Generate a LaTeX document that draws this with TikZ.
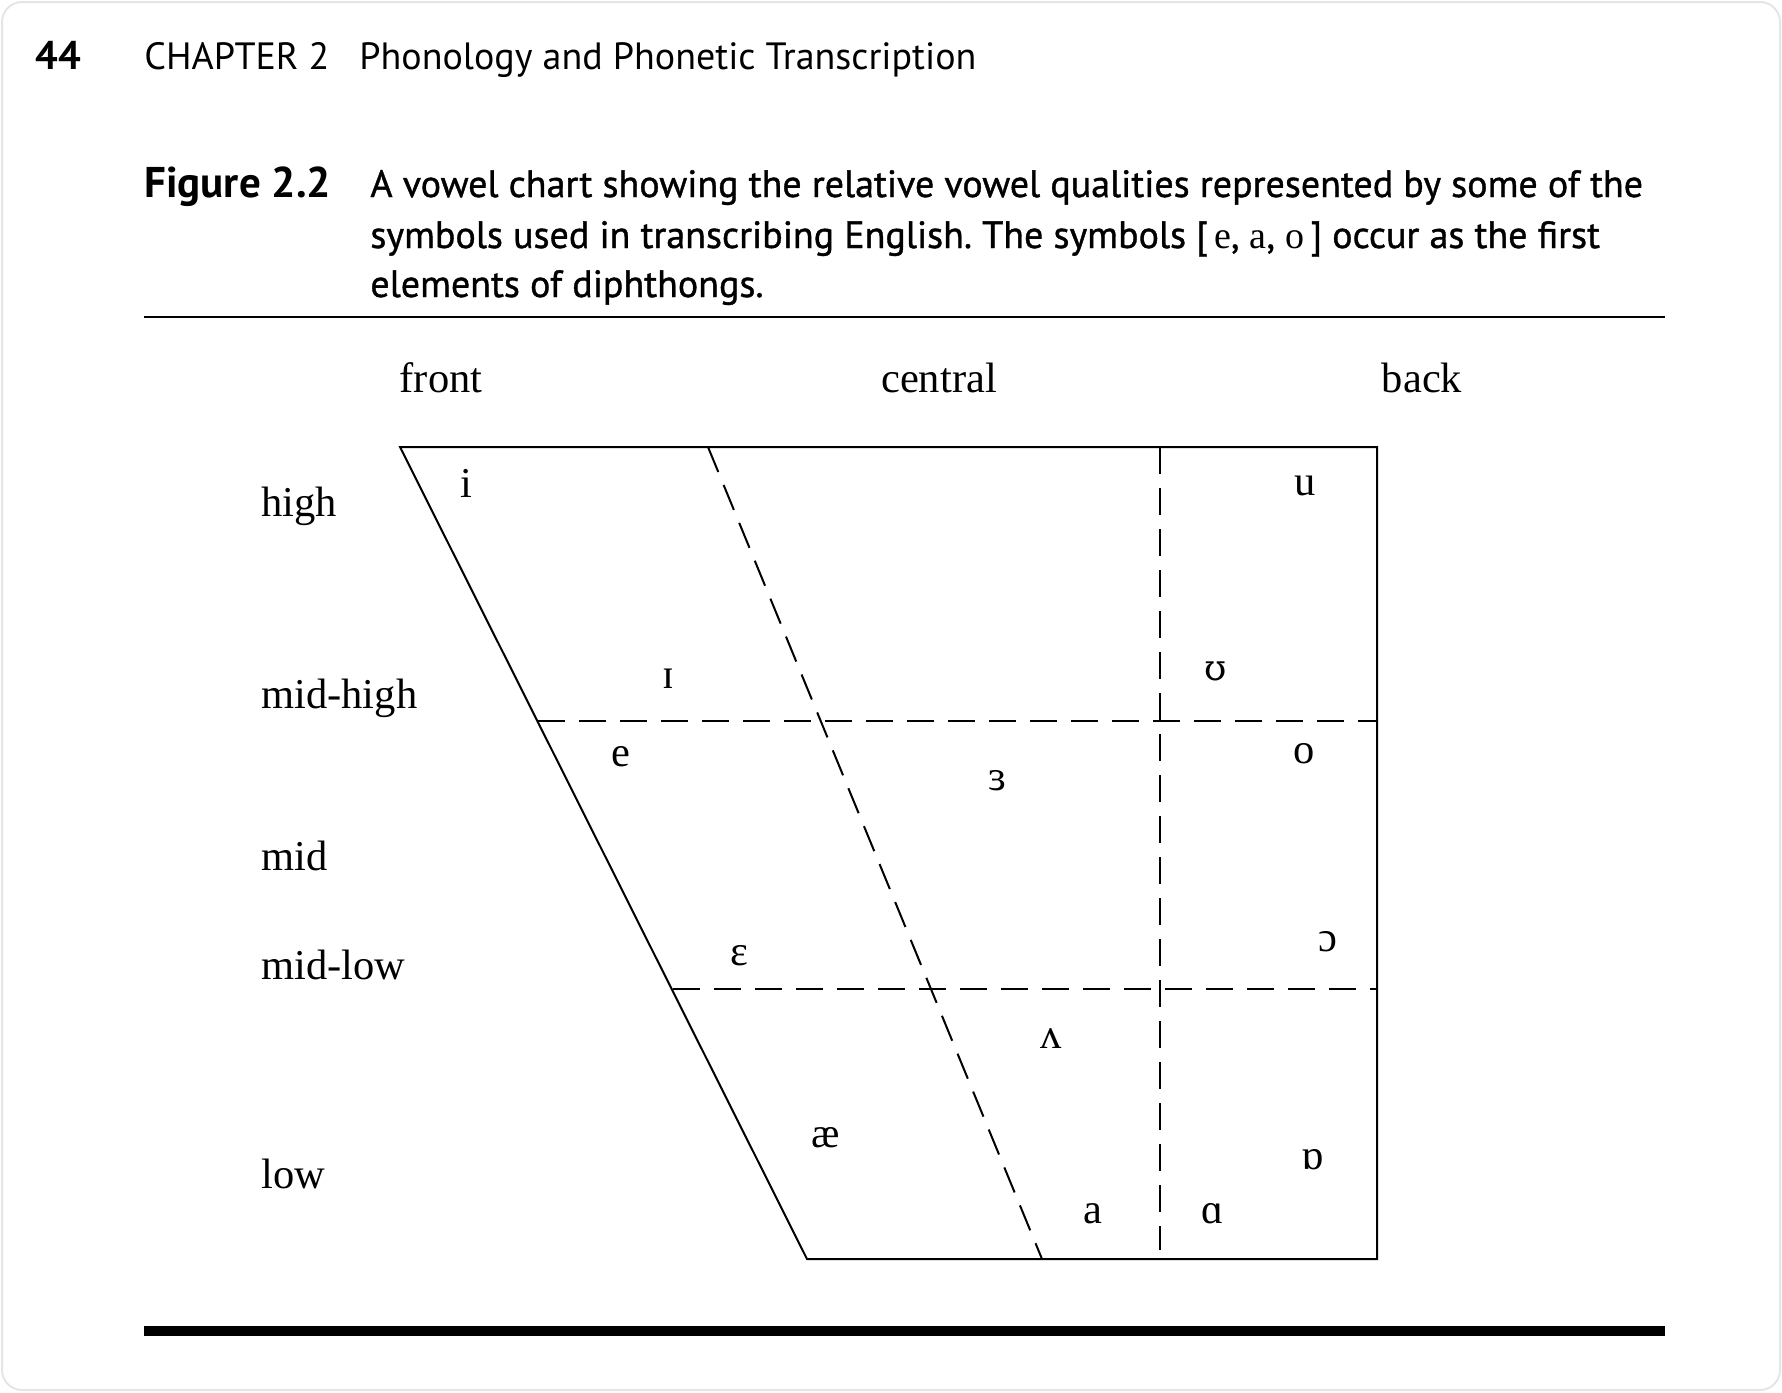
\documentclass[tikz,border=0pt]{standalone}
\usepackage{fontspec}
\setmainfont{Liberation Serif}
\newfontfamily\hsans{PT Sans}
\newfontfamily\hsansmed[FakeBold=1.0]{PT Sans}
\newfontfamily\ipaalt{DejaVu Serif}
\frenchspacing
\begin{document}
\begin{tikzpicture}[x=0.5pt,y=-0.5pt,
  frame/.style={line width=1pt},
  gridline/.style={line width=1pt, dash pattern=on 13.5pt off 7pt},
  lab/.style={inner sep=0pt, font=\fontsize{21.25}{24}\selectfont},
  leftlab/.style={lab, anchor=west},
  vow/.style={inner sep=0pt, font=\fontsize{21.25}{24}\selectfont},
  hdr/.style={inner sep=0pt, anchor=base west, font=\hsans\fontsize{19}{22}\selectfont},
  hdrbold/.style={inner sep=0pt, anchor=base west, font=\hsans\bfseries\fontsize{20}{22}\selectfont},
  captext/.style={inner sep=0pt, anchor=base west, font=\hsansmed\fontsize{19}{22}\selectfont},
  capbold/.style={inner sep=0pt, anchor=base west, font=\hsans\bfseries\fontsize{21.5}{24}\selectfont},
]
\useasboundingbox (0,0) rectangle (1782,1392);
\draw[gray!20, line width=1pt, rounded corners=10pt] (2,2) rectangle (1780,1390);

% header
\node[hdrbold] (pg) at (35,69) {44};
\node[hdr] (chap) at (144,69) {CHAPTER 2};
\node[hdr] (title) at (359,69) {Phonology and Phonetic Transcription};

% caption
\node[capbold] (fig) at (144,197) {Figure 2.2};
\node[captext] (c1) at (370,197) {A vowel chart showing the relative vowel qualities represented by some of the};
\node[captext] (c2) at (370,248) {symbols used in transcribing English. The symbols [\,{\rmfamily e}, {\rmfamily a}, {\rmfamily o}\,] occur as the first};
\node[captext] (c3) at (370,297) {elements of diphthongs.};

% rules
\coordinate (r1a) at (144,317);
\coordinate (r1b) at (1665,317);
\coordinate (r2a) at (144,1331);
\coordinate (r2b) at (1665,1331);
\draw[line width=1pt] (r1a) -- (r1b);
\draw[line width=5pt] (r2a) -- (r2b);

% chart
\coordinate (TL) at (400,447);
\coordinate (TR) at (1377,447);
\coordinate (BR) at (1377,1259);
\coordinate (BL) at (807,1259);
\coordinate (MHL) at (538,720.5);
\coordinate (MHR) at (1377,720.5);
\coordinate (MLL) at (673,988.7);
\coordinate (MLR) at (1377,988.7);
\coordinate (DT) at (708,447);
\coordinate (DB) at (1042,1259);
\coordinate (VT) at (1160,447);
\coordinate (VB) at (1160,1250);

\draw[gridline] (MHL) -- (MHR);
\draw[gridline] (MLL) -- (MLR);
\draw[gridline] (DT) -- (DB);
\draw[gridline] (VT) -- (VB);
\draw[frame, line join=miter] (TL) -- (TR) -- (BR) -- (BL) -- cycle;

% column labels
\node[lab] (front) at (441,378) {front};
\node[lab] (central) at (939,378) {central};
\node[lab] (back) at (1422,378) {back};

% row labels
\node[leftlab] (high) at (261,506) {high};
\node[leftlab] (midhigh) at (261,698) {mid-high};
\node[leftlab] (mid) at (261,856) {mid};
\node[leftlab] (midlow) at (261,965) {mid-low};
\node[leftlab] (low) at (261,1174) {low};

% vowels
\node[vow] (vi) at (466,483) {i};
\node[vow] (vu) at (1305,486) {u};
\node[vow] (vI) at (668,679) {ɪ};
\node[vow, font=\ipaalt\fontsize{18}{20}\selectfont] (vU) at (1216,671) {ʊ};
\node[vow] (ve) at (621,757) {e};
\node[vow] (vo) at (1304,754) {o};
\node[vow] (v3) at (997,781) {ɜ};
\node[vow] (vE) at (739,956) {ɛ};
\node[vow] (vO) at (1328,942) {ɔ};
\node[vow] (vV) at (1051,1039) {ʌ};
\node[vow] (vae) at (826,1138) {æ};
\node[vow] (vQ) at (1313,1160) {ɒ};
\node[vow] (va) at (1093,1214) {a};
\node[vow] (vA) at (1213,1214) {ɑ};
\end{tikzpicture}
\end{document}
